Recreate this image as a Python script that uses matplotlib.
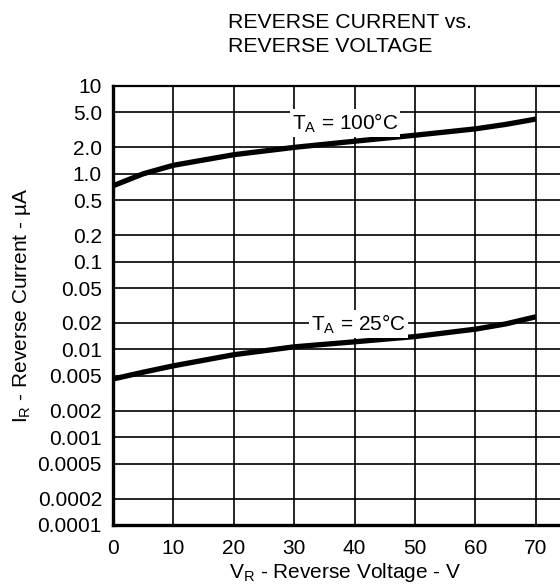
import matplotlib
matplotlib.use("Agg")
import matplotlib.pyplot as plt

# --- datos ---
voltaje = [0, 5, 10, 20, 30, 40, 50, 60, 65, 70]
corriente_100 = [0.73, 1.0, 1.25, 1.65, 2.0, 2.35, 2.75, 3.25, 3.65, 4.2]
corriente_25 = [0.0046, 0.0055, 0.0065, 0.0087, 0.0107, 0.0122, 0.014, 0.017, 0.0195, 0.0235]

x_ticks = [0, 10, 20, 30, 40, 50, 60, 70]
y_ticks = [10, 5, 2, 1, 0.5, 0.2, 0.1, 0.05, 0.02, 0.01, 0.005, 0.002,
           0.001, 0.0005, 0.0002, 0.0001]
y_labels = ["10", "5.0", "2.0", "1.0", "0.5", "0.2", "0.1", "0.05", "0.02",
            "0.01", "0.005", "0.002", "0.001", "0.0005", "0.0002", "0.0001"]

plt.rcParams['font.family'] = ['Liberation Sans', 'DejaVu Sans']
plt.rcParams['mathtext.fontset'] = 'custom'
plt.rcParams['mathtext.rm'] = 'Liberation Sans'

W, H = 560, 588
fig = plt.figure(figsize=(W / 100, H / 100), dpi=100)
# el eje derecho queda cortado por el borde de la figura
ax = fig.add_axes([113 / W, 1 - 525 / H, (566 - 113) / W, 439 / H])

ax.set_yscale('log')
ax.set_xlim(0, 75)
ax.set_ylim(0.0001, 10)

ax.plot(voltaje, corriente_100, color='black', lw=3.8, solid_capstyle='butt', zorder=3)
ax.plot(voltaje, corriente_25, color='black', lw=3.8, solid_capstyle='butt', zorder=3)

ax.set_xticks(x_ticks)
ax.set_yticks(y_ticks)
ax.set_yticklabels(y_labels)
ax.minorticks_off()
ax.tick_params(length=0, labelsize=15)
ax.tick_params(axis='y', pad=8)
ax.tick_params(axis='x', pad=10)
ax.grid(True, color='black', lw=1.2)
ax.set_axisbelow(True)

for lado, ancho in [('left', 2.4), ('bottom', 2.4), ('top', 1.6), ('right', 1.6)]:
    ax.spines[lado].set_linewidth(ancho)

caja = dict(facecolor='white', edgecolor='none', pad=1.5)
ax.text(38.4, 3.8, r"$\mathregular{T_A}$ = 100°C", fontsize=15, ha='center',
        va='center', bbox=caja, zorder=4)
ax.text(40.6, 0.0195, r"$\mathregular{T_A}$ = 25°C", fontsize=15, ha='center',
        va='center', bbox=caja, zorder=4)

fig.text(228 / W, 1 - 22 / H, "REVERSE CURRENT vs.", fontsize=15.3, ha='left', va='center')
fig.text(228 / W, 1 - 47 / H, "REVERSE VOLTAGE", fontsize=15.3, ha='left', va='center')
fig.text(345 / W, 1 - 572 / H, r"$\mathregular{V_R}$ - Reverse Voltage - V",
         fontsize=15, ha='center', va='center')
fig.text(22 / W, 1 - 305 / H, r"$\mathregular{I_R}$ - Reverse Current - µA",
         fontsize=15, ha='center', va='center', rotation=90)

fig.savefig("out.png", dpi=100)
